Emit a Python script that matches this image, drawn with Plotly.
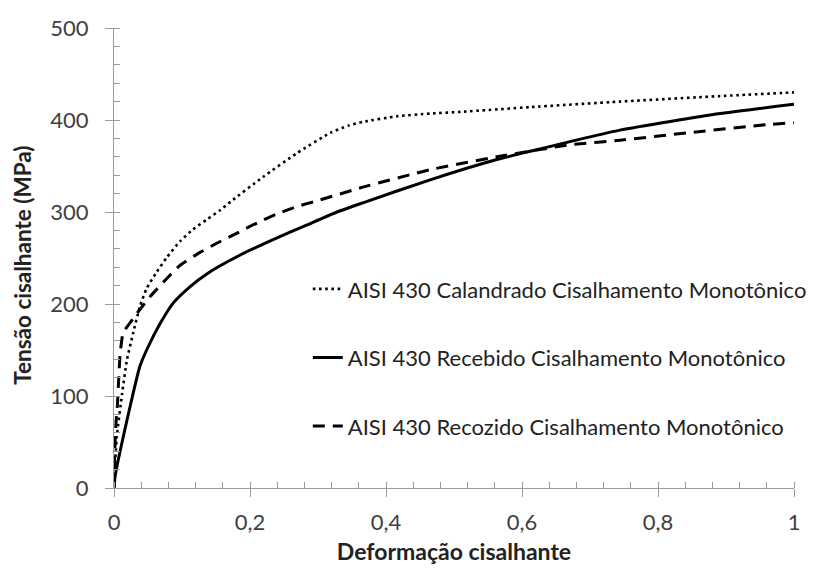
import plotly.graph_objects as go

# Data
cal_x = [0, 0.004, 0.012, 0.019, 0.028, 0.038, 0.048, 0.063, 0.078, 0.097, 0.116, 0.137,
         0.156, 0.171, 0.219, 0.269, 0.318, 0.345, 0.366, 0.416, 0.465, 0.513, 0.612,
         0.744, 0.891, 1.0]
cal_y = [0, 55, 103, 139, 168, 197, 217, 235, 251, 268, 281, 292,
         302, 311, 338, 364, 386, 394, 398, 404, 407, 409, 414,
         420, 426, 430]

rec_x = [0, 0.0015, 0.0235, 0.038, 0.048, 0.068, 0.087, 0.112, 0.137, 0.185, 0.234, 0.284,
         0.328, 0.366, 0.465, 0.563, 0.612, 0.744, 0.891, 1.0]
rec_y = [0, 12, 88, 132, 150, 179, 201, 219, 233, 253, 270, 286,
         300, 310, 335, 357, 366, 389, 407, 417]

coz_x = [0, 0.001, 0.003, 0.005, 0.007, 0.009, 0.013, 0.016, 0.034, 0.053, 0.078, 0.097,
         0.124, 0.151, 0.181, 0.21, 0.24, 0.269, 0.298, 0.366, 0.465, 0.563, 0.67, 0.744,
         0.843, 0.96, 1.0]
coz_y = [0, 38, 72, 90, 120, 146, 168, 172, 190, 208, 228, 242,
         255, 266, 277, 288, 298, 306, 312, 327, 346, 360, 373, 378,
         386, 395, 397]

names = ["AISI 430 Calandrado Cisalhamento Monotônico",
         "AISI 430 Recebido Cisalhamento Monotônico",
         "AISI 430 Recozido Cisalhamento Monotônico"]

x_ticks = [0, 0.2, 0.4, 0.6, 0.8, 1]
x_labels = ["0", "0,2", "0,4", "0,6", "0,8", "1"]
y_ticks = [0, 100, 200, 300, 400, 500]
x_title = "Deformação cisalhante"
y_title = "Tensão cisalhante (MPa)"

FONT = "Lato"
AX = "#9a9a9a"
fig = go.Figure()
fig.add_trace(go.Scatter(x=cal_x, y=cal_y, mode="lines", name=names[0], legendgroup="a",
                         line=dict(color="black", width=2.6, dash="2.6px,3.6px", shape="spline", smoothing=0.5)))
fig.add_trace(go.Scatter(x=rec_x, y=rec_y, mode="lines", name=names[1], legendgroup="b",
                         line=dict(color="black", width=3, shape="spline", smoothing=0.5)))
fig.add_trace(go.Scatter(x=coz_x, y=coz_y, mode="lines", name=names[2], legendgroup="c",
                         line=dict(color="black", width=3, dash="12px,8px", shape="spline", smoothing=0.4)))

axis_common = dict(showgrid=False, zeroline=False, showline=True, linecolor=AX, linewidth=1.3,
                   ticks="outside", ticklen=8, tickcolor=AX, tickwidth=1.3,
                   tickfont=dict(family=FONT, size=22, color="#404040"))

fig.update_xaxes(range=[0, 1], tickvals=x_ticks, ticktext=x_labels, ticklabelstandoff=6,
                 title=dict(text="<b>" + x_title + "</b>", font=dict(family=FONT, size=23, color="#222"), standoff=10),
                 minor=dict(dtick=0.04, ticks="inside", ticklen=6, tickcolor=AX, tickwidth=1.3),
                 **axis_common)
fig.update_yaxes(range=[0, 500], tickvals=y_ticks, ticklabelstandoff=12,
                 minor=dict(dtick=20, ticks="inside", ticklen=6, tickcolor=AX, tickwidth=1.3),
                 **axis_common)

fig.add_annotation(text="<b>" + y_title + "</b>", textangle=-90, showarrow=False,
                   xref="paper", yref="paper", x=-0.134, y=0.485, xanchor="center", yanchor="middle",
                   font=dict(family=FONT, size=22.5, color="#222"))

fig.update_layout(
    width=825, height=576,
    margin=dict(l=114, r=31, t=28, b=88),
    plot_bgcolor="white", paper_bgcolor="white",
    separators=", ",
    legend=dict(x=0.285, y=0.478, xanchor="left", yanchor="top", tracegroupgap=37,
                font=dict(family=FONT, size=22, color="#222"), bgcolor="rgba(0,0,0,0)"),
)
fig.write_html("out.html")
